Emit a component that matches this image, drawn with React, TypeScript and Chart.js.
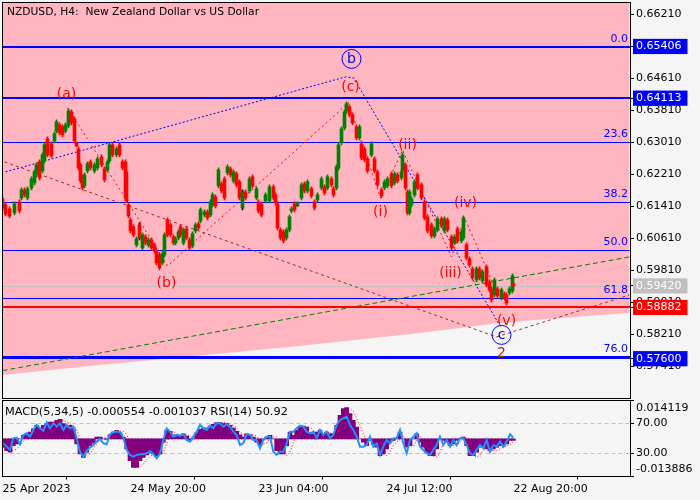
import { useEffect, useRef } from "react";
import { Chart, registerables, type ChartDataset, type Plugin } from "chart.js";

Chart.register(...registerables);

// prices are in points (1 point = 0.00001); bars are H4 bar numbers
const bars = [
  0, 3, 7, 12, 17, 19, 22, 25, 29, 32, 34, 37, 40, 42, 45, 49, 52, 54, 57, 60, 63, 66, 69, 72, 74, 76, 78, 80, 82,
  85, 88, 92, 95, 99, 102, 105, 107, 110, 114, 117, 120, 123, 124, 126, 128, 131, 134, 137, 140, 143, 146, 149, 152,
  154, 157, 160, 162, 165, 168, 171, 173, 176, 178, 181, 184, 187, 190, 193, 196, 198, 202, 205, 208, 210, 213, 216,
  219, 222, 225, 228, 231, 234, 237, 240, 243, 247, 250, 254, 256, 259, 263, 267, 271, 273, 275, 278, 281, 284, 287,
  289, 292, 295, 299, 302, 305, 309, 312, 315, 319, 322, 325, 329, 331, 334, 336, 339, 342, 344, 347, 350, 354, 357,
  359, 362, 365, 369, 372, 375, 379, 382, 385, 389, 392, 395, 399, 400, 403, 405, 407, 409, 412, 415, 419, 422, 425,
  429, 432, 435, 439, 442, 445, 449, 452, 455, 459, 461, 464, 467, 470, 474, 477, 480, 484, 487, 489, 492, 495, 499,
  502, 504, 507, 510, 511,
];
const highs = [
  61645, 61495, 61395, 61520, 61570, 61870, 61870, 61895, 62145, 62320, 62495, 62570, 62745, 62995, 63145, 63020,
  63270, 63570, 63495, 63445, 63495, 63845, 63820, 63645, 63020, 62895, 62495, 62195, 62245, 62520, 62570, 62495,
  62645, 62695, 62395, 62570, 62995, 62995, 62895, 62995, 62570, 62570, 62320, 61495, 61120, 60945, 60645, 60995,
  60745, 60695, 60620, 60620, 60495, 60320, 60245, 60270, 60745, 61120, 60995, 60695, 60645, 60820, 60945, 60870,
  60895, 60620, 60770, 60995, 61020, 61370, 61320, 61320, 61570, 61745, 61695, 62370, 62020, 62145, 62445, 62395,
  62320, 62270, 62070, 61820, 61820, 62145, 62195, 61895, 61570, 61520, 61745, 61945, 61945, 61745, 61520, 60870,
  60820, 60870, 61195, 61395, 61520, 61520, 61995, 62020, 62070, 61895, 61570, 61745, 62145, 61945, 62195, 62145,
  61895, 62445, 62995, 63395, 63820, 64020, 63945, 63745, 63445, 63445, 63020, 62895, 62645, 63020, 62645, 62320,
  61870, 62070, 62145, 62270, 62270, 62245, 62320, 62745, 62495, 61820, 61820, 61645, 62070, 62245, 61995, 61570,
  61195, 60995, 60895, 61145, 61145, 61145, 61120, 60695, 60695, 60895, 60820, 61170, 60495, 60145, 59895, 59895,
  59895, 59820, 59945, 59570, 59395, 59620, 59395, 59370, 59270, 59245, 59395, 59720, 59495,
];
const lows = [
  61320, 61170, 61120, 61195, 61245, 61570, 61645, 61570, 61820, 61945, 62145, 62070, 62245, 62495, 62645, 62620,
  62995, 63245, 63195, 63145, 63245, 63370, 63445, 62995, 62895, 62320, 61995, 61820, 61870, 62245, 62320, 62245,
  62320, 62395, 62020, 62270, 62495, 62645, 62645, 62645, 62320, 61570, 61495, 61120, 60745, 60645, 60395, 60570,
  60320, 60445, 60395, 60320, 60245, 59945, 59820, 59945, 60145, 60645, 60645, 60445, 60445, 60570, 60645, 60445,
  60570, 60320, 60370, 60745, 60820, 60995, 61145, 61070, 61145, 61395, 61370, 61870, 61745, 61570, 62195, 62145,
  61995, 61895, 61570, 61320, 61570, 61745, 61870, 61570, 61245, 61145, 61495, 61495, 61570, 61445, 60820, 60570,
  60495, 60570, 60770, 61245, 61270, 61395, 61570, 61745, 61745, 61620, 61320, 61520, 61820, 61695, 61820, 61895,
  61645, 61820, 62320, 62945, 63320, 63745, 63645, 63445, 63070, 63070, 62570, 62520, 62245, 62645, 62245, 61895,
  61620, 61820, 61870, 61870, 61945, 61995, 62070, 62245, 61820, 61195, 61195, 61395, 61645, 61820, 61570, 61070,
  60745, 60620, 60620, 60770, 60870, 60745, 60770, 60320, 60445, 60495, 60495, 60570, 60070, 59895, 59570, 59520,
  59570, 59495, 59395, 59270, 59020, 59145, 59120, 59070, 59070, 58945, 59195, 59245, 59395,
];
const opens = [
  61595, 61445, 61345, 61245, 61520, 61620, 61820, 61620, 61870, 61995, 62195, 62520, 62295, 62545, 63095, 62970,
  63045, 63295, 63445, 63395, 63295, 63420, 63770, 63595, 62995, 62845, 62445, 62145, 61920, 62295, 62520, 62295,
  62370, 62645, 62345, 62320, 62545, 62945, 62695, 62945, 62520, 62520, 62270, 61445, 61070, 60895, 60445, 60945,
  60370, 60645, 60445, 60570, 60445, 60270, 60195, 59995, 60195, 61070, 60945, 60645, 60495, 60620, 60895, 60495,
  60845, 60570, 60420, 60795, 60970, 61045, 61195, 61270, 61195, 61445, 61645, 61920, 61970, 62095, 62245, 62345,
  62045, 62220, 62020, 61370, 61770, 61795, 62145, 61620, 61520, 61470, 61545, 61545, 61895, 61695, 61470, 60820,
  60770, 60620, 60820, 61295, 61470, 61420, 61620, 61970, 61795, 61845, 61520, 61570, 61870, 61895, 61870, 62095,
  61845, 61870, 62370, 62995, 63370, 63795, 63895, 63695, 63395, 63120, 62970, 62845, 62595, 62695, 62595, 62270,
  61820, 61870, 61920, 62220, 61995, 62195, 62120, 62295, 62445, 61770, 61245, 61445, 61695, 62195, 61945, 61520,
  61145, 60945, 60670, 60820, 61095, 60795, 61070, 60645, 60495, 60845, 60545, 60620, 60445, 60095, 59845, 59570,
  59845, 59545, 59895, 59520, 59345, 59195, 59345, 59120, 59220, 59195, 59245, 59295, 59470,
];
const closes = [
  61370, 61220, 61170, 61470, 61295, 61820, 61695, 61845, 62095, 62270, 62445, 62120, 62695, 62945, 62695, 62670,
  63220, 63520, 63245, 63195, 63445, 63795, 63495, 63045, 62920, 62370, 62045, 61870, 62195, 62470, 62370, 62445,
  62595, 62445, 62070, 62520, 62945, 62695, 62845, 62695, 62370, 61620, 61545, 61170, 60795, 60695, 60595, 60620,
  60695, 60495, 60570, 60370, 60295, 59995, 59870, 60220, 60695, 60695, 60695, 60495, 60595, 60770, 60695, 60820,
  60620, 60370, 60720, 60945, 60870, 61320, 61270, 61120, 61520, 61695, 61420, 62320, 61795, 61620, 62395, 62195,
  62270, 61945, 61620, 61770, 61620, 62095, 61920, 61845, 61295, 61195, 61695, 61895, 61620, 61495, 60870, 60620,
  60545, 60820, 61145, 61345, 61320, 61495, 61945, 61795, 62020, 61670, 61370, 61695, 62095, 61745, 62145, 61945,
  61695, 62395, 62945, 63345, 63770, 63970, 63695, 63495, 63120, 63395, 62620, 62570, 62295, 62970, 62295, 61945,
  61670, 62020, 62095, 61920, 62220, 62045, 62270, 62695, 61870, 61245, 61770, 61595, 62020, 61870, 61620, 61120,
  60795, 60670, 60845, 61095, 60920, 61095, 60820, 60370, 60645, 60545, 60770, 61120, 60120, 59945, 59620, 59845,
  59620, 59770, 59445, 59320, 59070, 59570, 59170, 59320, 59120, 58995, 59345, 59670, 59420,
];
const blackWickBars = [137, 240];

const boundaryBars = [0, 97, 197, 297, 417, 497, 557, 627];
const boundaryPrices = [57195, 57445, 57677, 57920, 58245, 58495, 58620, 58745];

const blueWaveBars = [3, 343, 351, 497];
const blueWavePrices = [62270, 64645, 64620, 58445];
const brownWaveBars = [2, 494, 627];
const brownWavePrices = [62520, 58145, 59195];
const greenTrendBars = [0, 627];
const greenTrendPrices = [57302, 60145];
const redWaveBars = [65, 124, 165, 346, 378, 400, 449, 462, 497];
const redWavePrices = [63870, 61570, 59920, 63995, 61620, 62820, 60145, 61120, 59120];

const fibNames = ["0.0", "23.6", "38.2", "50.0", "61.8", "76.0"];
const fibPrices = [65392, 63005, 61505, 60305, 59105, 57630];
const resistancePrice = 64117;
const supportPrice = 58892;
const lastPrice = 59405;

const waveNames = ["(a)", "(b)", "(c)", "(i)", "(ii)", "(iii)", "(iv)", "(v)"];
const waveBars = [64, 164, 348, 378, 405, 448, 463, 504];
const wavePrices = [64220, 59495, 64395, 61270, 62945, 59745, 61495, 58545];

const priceTicks = [66210, 64610, 63810, 63010, 62210, 61410, 60610, 59810, 59010, 58210, 57410];
const boxedTicks = [65406, 64113, 59420, 58882, 57600];
const boxedColors = ["#0000ff", "#0000ff", "#c0c0c0", "#ff0000", "#0000ff"];

const timeTicks = [0, 128, 256, 384, 511];
const timeLabels = ["25 Apr 2023", "24 May 20:00", "23 Jun 04:00", "24 Jul 12:00", "22 Aug 20:00"];

const subTicks = [90.8, 70, 30, 9.07];
const subLabels = ["0.014119", "70.00", "30.00", "-0.013886"];

const macd = [
  -0.0031, -0.00434, -0.00496, -0.00248, -0.00186, 0, 0.00124, 0.00186, 0.00248, 0.00372, 0.00496, 0.00372, 0.00496,
  0.00558, 0.0062, 0.0062, 0.00682, 0.00719, 0.00558, 0.00496, 0.00496, 0.00372, -0.00186, -0.00558, -0.00682,
  -0.00496, -0.00248, -0.00149, 0.00062, 0.00062, 0, -0.00025, 0.00149, 0.00248, 0.0031, 0.00223, 0.00062, -0.00372,
  -0.00806, -0.01054, -0.01054, -0.00806, -0.00682, -0.00595, -0.00521, -0.00558, -0.0062, -0.00558, -0.00124, 0.0031,
  0.00273, 0.00149, 0.00099, 0.00124, 0.00186, 0.00099, -0.00062, 0, 0.00223, 0.00347, 0.00409, 0.00397, 0.00471,
  0.00533, 0.00595, 0.00595, 0.00558, 0.00558, 0.00496, 0.00397, 0.00273,
  0.00149, 0.00062, 0.00186, 0.00149, 0.00062, -0.00124, -0.00248, 0, 0.00062, 0.00124, 0, -0.00434, -0.00558,
  -0.00558, -0.00248, 0.00248, 0.00124, 0.00310, 0.00434, 0.00471, 0.00434, 0.00186, 0.00186, 0.00248, 0.0031, 0.00186,
  0.00248, 0.00186, 0.00186, 0.00496, 0.00868, 0.01116, 0.01153, 0.00930, 0.00682, 0.00434, 0, -0.00124, -0.00248,
  -0.00062, -0.00186, -0.0031, -0.0062, -0.00558, -0.00372, -0.00124, -0.00062, 0, 0.00248, 0, -0.0031, -0.00248, 0,
  0.00186, -0.00124, -0.0031, -0.00496, -0.0062, -0.0062, -0.00372, 0, -0.00062, -0.00124, -0.00248, -0.00186,
  -0.00062, 0, 0.00062, -0.00248,
  -0.0062, -0.0062, -0.00496, -0.0031, -0.00248, -0.00372, -0.00434, -0.00372, -0.0031, -0.00248, -0.00248, -0.00186,
  -0.00062, -0.00055,
];
const macdSignal = [
  -0.00124, -0.00248, -0.00372, -0.00434, -0.00372, -0.00248, -0.00099, 0.00062, 0.00149, 0.00223, 0.00335, 0.00409,
  0.00422, 0.00471, 0.00521, 0.00583, 0.00620, 0.00657, 0.00670, 0.0062, 0.00546, 0.00496, 0.00347, 0, -0.00434,
  -0.00595, -0.00558, -0.00372, -0.00186, -0.00025, 0.00062, 0.00025, 0.00025, 0.00099, 0.00223, 0.00285, 0.00273,
  0.00149, -0.00186, -0.00620, -0.00930, -0.01054, -0.00930, -0.00769, -0.00645, -0.00558, -0.00546, -0.00595, -0.00496,
  -0.00186, 0.00186, 0.00273, 0.00186, 0.00124, 0.00112, 0.00149, 0.00099, 0, 0.00025, 0.00174, 0.0031, 0.00384,
  0.00409, 0.00459, 0.00521, 0.00583, 0.00608, 0.00583, 0.00546, 0.00496, 0.00409,
  0.00223, 0.00186, 0.00124, 0.00124, 0.00149, 0.00099, -0.00062, -0.00186, -0.00149, 0, 0.00074, 0.00062, -0.00186,
  -0.00471, -0.0062, -0.00496, -0.00124, 0.00149, 0.00248, 0.00372, 0.00434, 0.00434, 0.00310, 0.00223, 0.00211, 0.00248,
  0.00223, 0.00211, 0.00186, 0.00223, 0.00434, 0.00744, 0.01016, 0.01116, 0.01016, 0.00744, 0.00496, 0.00186, -0.00099,
  -0.00223, -0.00186, -0.00186, -0.00310, -0.00521, -0.0062, -0.00496, -0.00248, -0.00124, -0.00025, 0.00099, -0.00025,
  -0.00248, -0.00273, -0.00062, 0.00099, -0.00062, -0.0031, -0.00496, -0.00645, -0.00682, -0.00496, -0.00186, -0.00099,
  -0.00149, -0.00248, -0.00223, -0.00124, -0.00025, 0,
  -0.00434, -0.0062, -0.00682, -0.00595, -0.00434, -0.0031, -0.00347, -0.00434, -0.00434, -0.00372, -0.0031, -0.00273,
  -0.00223, -0.00104,
];
const rsi = [
  43.3, 38.9, 34.5, 50, 50.9, 42, 54.4, 56.7, 52.2, 61.1, 67.8, 63.3, 59.8, 71.3, 63.3, 70, 65.5, 70, 61.1, 67.8, 63.3,
  65.5, 50, 32.2, 25.6, 33.1, 37.6, 41.1, 45.6, 49.1, 43.3, 42, 55.3, 58, 58.9, 58, 50.9, 34.5, 27.8, 25.6, 27.8, 28.7,
  28.7, 30, 33.1, 28.7, 23.4, 30, 47.8, 63.3, 58.9, 52.2, 54.4, 53.6, 55.3, 47.8, 45.6, 52.2, 58.9, 67.8, 63.3, 61.1,
  66.9, 63.3, 70, 70, 65.5, 68.6, 65.5, 58.9, 54.4,
  41.1, 43.3, 55.3, 54.4, 47.8, 47.8, 36.7, 47.8, 52.2, 52.2, 32.2, 27.8, 32.2, 32.2, 43.3, 58.9, 58.9, 63.3, 66.9, 65.5,
  58.9, 56.7, 58.9, 50, 61.1, 54.4, 58.9, 50, 54.4, 67.8, 74.4, 76.6, 78.9, 67.8, 61.1, 52.2, 38.9, 38.9, 41.1, 52.2,
  38.9, 43.3, 27.8, 38.9, 47.8, 43.3, 50, 50, 61.1, 43.3, 30, 47.8, 52.2, 56.7, 38.9, 34.5, 30, 27.8, 34.5, 41.1, 52.2,
  41.1, 47.8, 38.9, 47.8, 41.1, 50, 50, 41.1,
  30, 27.8, 34.5, 41.1, 36.7, 47.8, 32.2, 41.1, 38.9, 45.6, 38.9, 45.6, 55.3, 50.92,
];
const macdBars = macd.map((_, index) => ((index + 1) * 10) / 3 - 2.5);

const titleText = "NZDUSD, H4:  New Zealand Dollar vs US Dollar";
const indicatorText = "MACD(5,34,5) -0.000554 -0.001037 RSI(14) 50.92";

const labelFont = "DejaVu Sans";
const lastBar = 627.5;

function pairs(xs: number[], ys: number[]) {
  return xs.map((x, index) => ({ x, y: ys[index] }));
}

function levelLine(price: number, color: string, width: number): ChartDataset<"line", any> {
  return {
    type: "line",
    data: [
      { x: 0, y: price },
      { x: lastBar, y: price },
    ],
    borderColor: color,
    borderWidth: width,
    pointRadius: 0,
    order: 50,
  };
}

function waveLine(xs: number[], ys: number[], color: string, dash: number[]): ChartDataset<"line", any> {
  return {
    type: "line",
    data: pairs(xs, ys),
    borderColor: color,
    borderWidth: 1,
    borderDash: dash,
    pointRadius: 0,
    order: 40,
  };
}

const framePlugin: Plugin = {
  id: "frame",
  afterDraw(chart) {
    const { ctx, chartArea } = chart;
    ctx.save();
    ctx.strokeStyle = "#000000";
    ctx.lineWidth = 1;
    ctx.strokeRect(chartArea.left, chartArea.top, 628, chartArea.height);
    if (chart.canvas.dataset.panel === "sub") {
      ctx.beginPath();
      ctx.moveTo(630, chartArea.top);
      ctx.lineTo(634, chartArea.top);
      ctx.moveTo(630, chartArea.bottom);
      ctx.lineTo(634, chartArea.bottom);
      ctx.stroke();
    }
    ctx.restore();
  },
};

const mainLabelsPlugin: Plugin = {
  id: "mainLabels",
  afterDatasetsDraw(chart) {
    const { ctx } = chart;
    const x = chart.scales.x;
    const y = chart.scales.y;
    ctx.save();
    ctx.textBaseline = "middle";

    ctx.fillStyle = "#000000";
    ctx.textAlign = "left";
    ctx.font = `10.7px "${labelFont}"`;
    ctx.fillText(titleText, 7, 12);

    ctx.font = `11px "${labelFont}"`;
    ctx.fillStyle = "#0000ff";
    ctx.textAlign = "right";
    fibNames.forEach((name, index) => {
      ctx.fillText(name, 628, y.getPixelForValue(fibPrices[index]) - 8);
    });

    ctx.textAlign = "center";
    ctx.font = `14px "${labelFont}"`;
    ctx.fillStyle = "#ff0000";
    waveNames.forEach((name, index) => {
      ctx.fillText(name, x.getPixelForValue(waveBars[index]), y.getPixelForValue(wavePrices[index]));
    });

    ctx.fillStyle = "#a52a2a";
    ctx.fillText("2", x.getPixelForValue(499), y.getPixelForValue(57745));

    ctx.fillStyle = "#0000ff";
    ctx.strokeStyle = "#0000ff";
    ctx.lineWidth = 1;
    const circled: [string, number, number][] = [
      ["b", 349, 65095],
      ["c", 499, 58195],
    ];
    circled.forEach(([name, bar, price]) => {
      const cx = x.getPixelForValue(bar);
      const cy = y.getPixelForValue(price);
      ctx.fillText(name, cx, cy);
      ctx.beginPath();
      ctx.arc(cx, cy, 9.5, 0, Math.PI * 2);
      ctx.stroke();
    });
    ctx.restore();
  },
};

const subLabelsPlugin: Plugin = {
  id: "subLabels",
  afterDatasetsDraw(chart) {
    const { ctx } = chart;
    ctx.save();
    ctx.textBaseline = "middle";
    ctx.textAlign = "left";
    ctx.fillStyle = "#000000";
    ctx.font = `11.3px "${labelFont}"`;
    ctx.fillText(indicatorText, 5, 13);
    ctx.restore();
  },
};

function boxedIndex(value: number) {
  return boxedTicks.indexOf(value);
}

function mainConfig(): any {
  return {
    type: "bar",
    data: {
      datasets: [
        {
          type: "bar",
          data: bars.map((bar, index) => ({ x: bar, y: [opens[index], closes[index]] })),
          backgroundColor: bars.map((_, index) => (closes[index] >= opens[index] ? "#008000" : "#ff0000")),
          barThickness: 3,
          grouped: false,
          order: 1,
        },
        {
          type: "bar",
          data: bars.map((bar, index) => ({ x: bar, y: [lows[index], highs[index]] })),
          backgroundColor: bars.map((bar, index) =>
            blackWickBars.includes(bar) ? "#000000" : closes[index] >= opens[index] ? "#008000" : "#ff0000",
          ),
          barThickness: 1,
          grouped: false,
          order: 2,
        },
        waveLine(greenTrendBars, greenTrendPrices, "#008000", [5, 3]),
        waveLine(brownWaveBars, brownWavePrices, "#a52a2a", [3, 3]),
        waveLine(blueWaveBars, blueWavePrices, "#0000ff", [2, 2]),
        waveLine(redWaveBars, redWavePrices, "#ff0000", [2, 3]),
        ...fibPrices.map((price, index) =>
          levelLine(price, "#0000ff", index === 0 ? 2 : index === 5 ? 3 : 1),
        ),
        levelLine(resistancePrice, "#0000ff", 2),
        levelLine(supportPrice, "#ff0000", 2),
        levelLine(lastPrice, "#c0c0c0", 1),
        {
          type: "line",
          data: pairs(boundaryBars, boundaryPrices),
          borderWidth: 0,
          pointRadius: 0,
          backgroundColor: "#ffb6c1",
          fill: "end",
          order: 100,
        },
      ],
    },
    options: {
      responsive: false,
      animation: false,
      devicePixelRatio: 1,
      layout: { autoPadding: false, padding: { left: 2.5, top: 2.5, right: 0, bottom: 0.5 } },
      plugins: { legend: { display: false }, tooltip: { enabled: false } },
      scales: {
        x: { type: "linear", display: false, min: 0, max: lastBar, offset: false },
        y: {
          position: "right",
          min: 56605,
          max: 66505,
          afterFit(axis: any) {
            axis.width = 70;
            axis.paddingTop = 0;
            axis.paddingBottom = 0;
          },
          afterBuildTicks(axis: any) {
            axis.ticks = [...priceTicks, ...boxedTicks].map((value) => ({ value }));
          },
          border: { display: false },
          grid: { drawOnChartArea: false, tickLength: 4, tickColor: "#000000" },
          ticks: {
            autoSkip: false,
            padding: 2,
            crossAlign: "near",
            font: { family: labelFont, size: 11 },
            color: (context: any) => (boxedIndex(context.tick.value) >= 0 ? "#ffffff" : "#000000"),
            showLabelBackdrop: (context: any) => boxedIndex(context.tick.value) >= 0,
            backdropColor: (context: any) => boxedColors[boxedIndex(context.tick.value)] ?? "transparent",
            backdropPadding: { left: 3, right: 6, top: 1, bottom: 1 },
            callback: (value: number) => (value / 100000).toFixed(5),
          },
        },
      },
    },
    plugins: [mainLabelsPlugin, framePlugin],
  };
}

function subConfig(): any {
  return {
    type: "bar",
    data: {
      datasets: [
        {
          type: "line",
          data: pairs(macdBars, rsi),
          yAxisID: "y",
          borderColor: "#1e90ff",
          borderWidth: 2,
          pointRadius: 0,
          order: 1,
        },
        {
          type: "line",
          data: pairs(macdBars, macdSignal),
          yAxisID: "macd",
          borderColor: "#ff0000",
          borderWidth: 1,
          borderDash: [1, 2],
          pointRadius: 0,
          order: 2,
        },
        {
          type: "bar",
          data: pairs(macdBars, macd),
          yAxisID: "macd",
          backgroundColor: "#800080",
          barThickness: 4,
          grouped: false,
          order: 3,
        },
      ],
    },
    options: {
      responsive: false,
      animation: false,
      devicePixelRatio: 1,
      layout: { autoPadding: false, padding: { left: 2.5, top: 1.5, right: 0, bottom: 0 } },
      plugins: { legend: { display: false }, tooltip: { enabled: false } },
      scales: {
        x: {
          type: "linear",
          min: 0,
          max: lastBar,
          offset: false,
          afterFit(axis: any) {
            axis.height = 23.5;
            axis.paddingLeft = 0;
            axis.paddingRight = 0;
          },
          afterBuildTicks(axis: any) {
            axis.ticks = timeTicks.map((value) => ({ value }));
          },
          border: { display: false },
          grid: { drawOnChartArea: false, tickLength: 3, tickColor: "#000000" },
          ticks: {
            autoSkip: false,
            maxRotation: 0,
            align: "start",
            padding: 3,
            color: "#000000",
            font: { family: labelFont, size: 11 },
            callback: (value: number) => timeLabels[timeTicks.indexOf(value)],
          },
        },
        macd: { display: false, min: -0.013886, max: 0.014119 },
        y: {
          position: "right",
          min: -0.93,
          max: 100.4,
          afterFit(axis: any) {
            axis.width = 70;
            axis.paddingTop = 0;
            axis.paddingBottom = 0;
          },
          afterBuildTicks(axis: any) {
            axis.ticks = subTicks.map((value) => ({ value }));
          },
          border: { display: false, dash: [4, 3] },
          grid: {
            tickLength: 4,
            tickBorderDash: [],
            color: (context: any) =>
              context.tick && (context.tick.value === 70 || context.tick.value === 30) ? "#c0c0c0" : "transparent",
            tickColor: (context: any) =>
              context.tick && (context.tick.value === 70 || context.tick.value === 30) ? "#000000" : "transparent",
          },
          ticks: {
            autoSkip: false,
            padding: 2,
            crossAlign: "near",
            color: "#000000",
            font: { family: labelFont, size: 11 },
            callback: (value: number) => subLabels[subTicks.indexOf(value)],
          },
        },
      },
    },
    plugins: [subLabelsPlugin, framePlugin],
  };
}

export default function App() {
  const mainRef = useRef<HTMLCanvasElement>(null);
  const subRef = useRef<HTMLCanvasElement>(null);

  useEffect(() => {
    if (!mainRef.current || !subRef.current) {
      return;
    }

    const main = new Chart(mainRef.current, mainConfig());
    const sub = new Chart(subRef.current, subConfig());

    return () => {
      main.destroy();
      sub.destroy();
    };
  }, []);

  return (
    <div style={{ position: "fixed", left: 0, top: 0, width: 700, height: 500, background: "#f5f5f5", overflow: "hidden" }}>
      <canvas ref={mainRef} width={700} height={399} style={{ position: "absolute", left: 0, top: 0 }} />
      <canvas ref={subRef} data-panel="sub" width={700} height={101} style={{ position: "absolute", left: 0, top: 399 }} />
    </div>
  );
}
